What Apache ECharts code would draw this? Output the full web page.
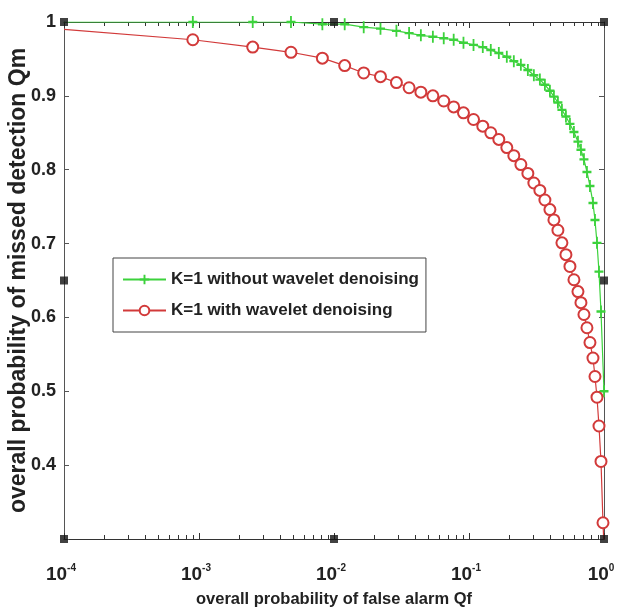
<!DOCTYPE html>
<html>
<head>
<meta charset="utf-8">
<script src="https://cdn.jsdelivr.net/npm/echarts@6/dist/echarts.min.js"></script>
<style>
  html, body { margin: 0; padding: 0; background: #fff; }
  #chart-container { width: 617px; height: 614px; }
</style>
</head>
<body>
<div id="chart-container"></div>
<script>
// false alarm (x) and missed detection (y)
var qfWith = [0.0001, 0.0009, 0.0025, 0.0048, 0.0082, 0.012, 0.0166, 0.0221, 0.029, 0.036,
    0.044, 0.054, 0.065, 0.077, 0.091, 0.108, 0.1265, 0.145, 0.1663, 0.1906, 0.2148, 0.2422,
    0.2729, 0.3023, 0.335, 0.3649, 0.3975, 0.4256, 0.4556, 0.4879, 0.5224, 0.5594, 0.5989,
    0.6413, 0.6749, 0.7103, 0.7476, 0.7871, 0.8286, 0.8574, 0.8873, 0.918, 0.95, 0.983, 1.0];
var qmWith = [0.990, 0.976, 0.966, 0.959, 0.951, 0.941, 0.931, 0.926, 0.918, 0.911,
    0.905, 0.900, 0.893, 0.885, 0.877, 0.868, 0.859, 0.850, 0.841, 0.830, 0.819, 0.807,
    0.795, 0.782, 0.772, 0.759, 0.746, 0.732, 0.718, 0.701, 0.685, 0.669, 0.651,
    0.635, 0.620, 0.604, 0.586, 0.566, 0.545, 0.520, 0.492, 0.453, 0.405, 0.322, 0.29];

var qfWithout = [0.0001, 0.0009, 0.0025, 0.0048, 0.0082, 0.012, 0.0166, 0.0221, 0.029, 0.036,
    0.044, 0.054, 0.065, 0.077, 0.091, 0.108, 0.1265, 0.145, 0.1663, 0.1906, 0.2148, 0.2422,
    0.2729, 0.3023, 0.335, 0.3649, 0.3975, 0.4256, 0.4556, 0.4879, 0.5224, 0.5594, 0.5989,
    0.6413, 0.6749, 0.7103, 0.7476, 0.7871, 0.8286, 0.8574, 0.8873, 0.918, 0.95, 1.0];
var qmWithout = [1.0, 1.0, 1.0, 1.0, 0.997, 0.997, 0.993, 0.991, 0.988, 0.985,
    0.982, 0.980, 0.978, 0.976, 0.972, 0.969, 0.966, 0.962, 0.958, 0.953, 0.947, 0.942,
    0.935, 0.928, 0.922, 0.915, 0.907, 0.899, 0.891, 0.881, 0.872, 0.862, 0.851,
    0.838, 0.827, 0.814, 0.797, 0.778, 0.755, 0.732, 0.701, 0.662, 0.608, 0.5];

var seriesNames = ['K=1 without wavelet denoising', 'K=1 with wavelet denoising'];
var yTicks = [0.3, 0.4, 0.5, 0.6, 0.7, 0.8, 0.9, 1];

// black editing handles seen around the frame of the picture
var handles = [[0.0001, 1], [0.01, 1], [1, 1], [0.0001, 0.65], [1, 0.65],
    [0.0001, 0.3], [0.01, 0.3], [1, 0.3]];

var dom = document.getElementById('chart-container');
var myChart = echarts.init(dom, null, { renderer: 'canvas' });

var fontFam = "'Liberation Sans Narrow', 'Liberation Sans', Arial, sans-serif";
var plus = 'path://M4,0H6V4H10V6H6V10H4V6H0V4H4Z';

function pairs(xs, ys, lastHidden) {
    return xs.map(function (x, i) {
        var item = { value: [x, ys[i]] };
        if (i === 0 || (lastHidden && i === xs.length - 1)) item.symbol = 'none';
        return item;
    });
}

var option = {
    animation: false,
    backgroundColor: '#fff',
    grid: { left: 64, right: 13, top: 22, bottom: 75, outerBoundsMode: 'none', containLabel: false },
    legend: {
        data: seriesNames,
        orient: 'vertical',
        left: 113,
        top: 258,
        backgroundColor: '#fff',
        borderColor: '#444',
        borderWidth: 1,
        padding: [13, 7, 13, 9],
        itemGap: 14,
        itemWidth: 43,
        itemHeight: 12,
        textStyle: { fontFamily: fontFam, fontWeight: 'bold', fontSize: 17, color: '#222' }
    },
    xAxis: [
        {
            type: 'log', min: 0.0001, max: 1, logBase: 10,
            name: 'overall probability of false alarm Qf',
            nameLocation: 'middle', nameGap: 52,
            nameMoveOverlap: false,
            nameTextStyle: { fontFamily: fontFam, fontWeight: 'bold', fontSize: 16.5, color: '#222' },
            axisLine: { lineStyle: { color: '#333', width: 1 } },
            axisTick: { inside: true, length: 6, lineStyle: { color: '#333' } },
            minorTick: { show: true, splitNumber: 9, length: 4, lineStyle: { color: '#333' } },
            splitLine: { show: false },
            axisLabel: {
                margin: 24,
                padding: [0, 6, 0, 0],
                formatter: function (v) {
                    return '{b|10}{s|' + Math.round(Math.log10(v)) + '}';
                },
                rich: {
                    b: { fontFamily: fontFam, fontWeight: 'bold', fontSize: 19, color: '#222' },
                    s: { fontFamily: fontFam, fontWeight: 'bold', fontSize: 10, color: '#222', padding: [0, 0, 14, 0] }
                }
            }
        },
        {
            type: 'log', min: 0.0001, max: 1, logBase: 10, position: 'top',
            axisLine: { lineStyle: { color: '#333', width: 1 } },
            axisTick: { inside: true, length: 6, lineStyle: { color: '#333' } },
            minorTick: { show: true, splitNumber: 9, length: 4, lineStyle: { color: '#333' } },
            splitLine: { show: false },
            axisLabel: { show: false }
        }
    ],
    yAxis: [
        {
            type: 'value', min: 0.3, max: 1, interval: 0.1,
            name: 'overall probability of missed detection Qm',
            nameLocation: 'middle', nameGap: 34,
            nameMoveOverlap: false,
            nameTextStyle: { fontFamily: fontFam, fontWeight: 'bold', fontSize: 23, color: '#222' },
            axisLine: { show: true, lineStyle: { color: '#555', width: 1 } },
            axisTick: { show: true, inside: true, length: 5, lineStyle: { color: '#555' } },
            splitLine: { show: false },
            axisLabel: {
                margin: 8,
                fontFamily: fontFam, fontWeight: 'bold', fontSize: 18, color: '#222',
                formatter: function (v) {
                    var t = yTicks.find(function (k) { return Math.abs(k - v) < 1e-6; });
                    if (t === undefined || t === 0.3) return '';
                    return String(t);
                }
            }
        },
        {
            type: 'value', min: 0.3, max: 1, interval: 0.1, position: 'right',
            axisLine: { show: true, lineStyle: { color: '#555', width: 1 } },
            axisTick: { show: true, inside: true, length: 5, lineStyle: { color: '#555' } },
            splitLine: { show: false },
            axisLabel: { show: false }
        }
    ],
    series: [
        {
            name: seriesNames[0],
            type: 'line',
            data: pairs(qfWithout, qmWithout, false),
            symbol: plus,
            symbolSize: [9, 12],
            itemStyle: { color: '#3cd23c' },
            lineStyle: { color: '#3cd23c', width: 1.2 },
            clip: true,
            z: 3
        },
        {
            name: seriesNames[1],
            type: 'line',
            data: pairs(qfWith, qmWith, true),
            symbol: 'emptyCircle',
            symbolSize: 11,
            itemStyle: { color: '#d23a3a', borderWidth: 1 },
            lineStyle: { color: '#d23a3a', width: 1.2 },
            clip: true,
            z: 4
        },
        {
            name: 'handles',
            type: 'scatter',
            data: handles,
            symbol: 'rect',
            symbolSize: 8,
            itemStyle: { color: '#111' },
            clip: false,
            silent: true,
            z: 10
        }
    ]
};

if (option && typeof option === 'object') {
    myChart.setOption(option);
}

window.addEventListener('resize', myChart.resize);
</script>
</body>
</html>
